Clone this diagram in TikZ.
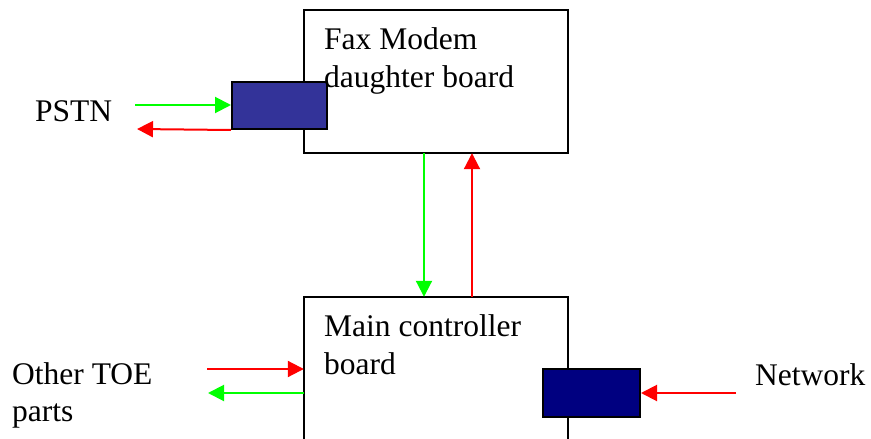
\documentclass[tikz,border=0pt]{standalone}
\usepackage{fontspec}
\setmainfont{Liberation Serif}
\usetikzlibrary{arrows.meta}
\definecolor{fgreen}{RGB}{0,255,0}
\definecolor{fred}{RGB}{255,0,0}
\definecolor{portblue}{RGB}{51,51,153}
\definecolor{portnavy}{RGB}{0,0,128}
\begin{document}
\begin{tikzpicture}[x=1pt,y=-1pt,
  board/.style={draw=black,line width=2pt,fill=white},
  port/.style={draw=black,line width=2pt},
  lbl/.style={font=\fontsize{31.5}{37.5}\selectfont,inner sep=0pt,anchor=base west,align=left},
  link/.style={line width=2pt,-{Triangle[length=16pt,width=16pt]}},
  gline/.style={link,fgreen},
  rline/.style={link,fred}]
\useasboundingbox (0,0) rectangle (871,439);
\clip (0,0) rectangle (871,439);

% boards (the main board runs past the lower edge)
\path[board] (304,10) rectangle (568,153);
\node[inner sep=0pt,minimum width=264pt,minimum height=143pt] (fax) at (436,81.5) {};
\path[board] (304,297) rectangle (568,470);
\node[inner sep=0pt,minimum width=264pt,minimum height=173pt] (main) at (436,383.5) {};

% ports
\node[port,fill=portblue,minimum width=95pt,minimum height=47pt,inner sep=0pt] (pstnport) at (279.5,105.5) {};
\node[port,fill=portnavy,minimum width=97pt,minimum height=48pt,inner sep=0pt] (netport) at (591.5,393) {};

% labels (base anchor sits on the last line)
\node[lbl] (faxtxt) at (324,87) {Fax Modem\\daughter board};
\node[lbl] (maintxt) at (324,374) {Main controller\\board};
\node[lbl] (pstn) at (35,121) {PSTN};
\node[lbl] (toe) at (12,421.5) {Other TOE\\parts};
\node[lbl] (net) at (755,385) {Network};

% free ends of the connectors
\coordinate (pstnin) at (135,105);
\coordinate (pstnout) at (137,129);
\coordinate (toein) at (207,369);
\coordinate (toeout) at (208,393);
\coordinate (netin) at (736,393);

% PSTN side
\draw[gline] (pstnin) -- (pstnport.west |- pstnin);
\draw[rline] (pstnport.south west) -- (pstnout);

% between the boards
\draw[gline] (fax.south -| 424,0) -- (main.north -| 424,0);
\draw[rline] (main.north -| 472,0) -- (fax.south -| 472,0);

% other TOE parts
\draw[rline] (toein) -- (main.west |- toein);
\draw[gline] (main.west |- toeout) -- (toeout);

% network
\draw[rline] (netin) -- (netport.east);
\end{tikzpicture}
\end{document}
